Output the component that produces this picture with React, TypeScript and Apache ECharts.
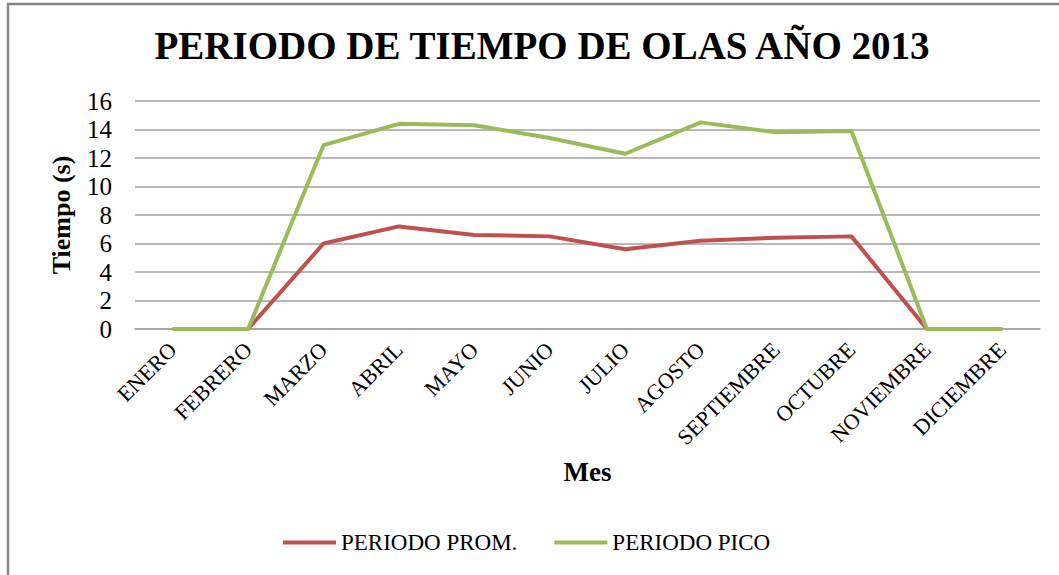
import React, { useEffect, useRef } from "react";
import * as echarts from "echarts";

const titleText = "PERIODO DE TIEMPO DE OLAS AÑO 2013";
const months = [
  "ENERO", "FEBRERO", "MARZO", "ABRIL", "MAYO", "JUNIO",
  "JULIO", "AGOSTO", "SEPTIEMBRE", "OCTUBRE", "NOVIEMBRE", "DICIEMBRE",
];
const seriesNames = ["PERIODO PROM.", "PERIODO PICO"];
const periodoProm = [0, 0, 6.0, 7.2, 6.6, 6.5, 5.6, 6.2, 6.4, 6.5, 0, 0];
const periodoPico = [0, 0, 12.9, 14.4, 14.3, 13.4, 12.3, 14.5, 13.8, 13.9, 0, 0];
const yMin = 0;
const yMax = 16;
const yInterval = 2;
const xAxisName = "Mes";
const yAxisName = "Tiempo (s)";

const FONT = "Liberation Serif";

export default function App() {
  const ref = useRef<HTMLDivElement>(null);
  useEffect(() => {
    if (!ref.current) return;
    const chart = echarts.init(ref.current, null, { renderer: "svg" });
    chart.setOption({
      animation: false,
      backgroundColor: "#ffffff",
      textStyle: { fontFamily: FONT },
      title: {
        text: titleText,
        left: 537,
        top: 21,
        textAlign: "center",
        textStyle: { fontFamily: FONT, fontWeight: "bold", fontSize: 39, color: "#000" },
      },
      legend: {
        left: 278,
        top: 526,
        itemWidth: 53,
        itemHeight: 4,
        itemGap: 37,
        icon: "rect",
        textStyle: { fontFamily: FONT, fontSize: 23, color: "#000" },
        data: seriesNames,
      },
      graphic: [
        {
          type: "rect",
          shape: { x: 8, y: 4, width: 1200, height: 800 },
          style: { fill: "none", stroke: "#868686", lineWidth: 2.5 },
          silent: true,
        },
      ],
      grid: { left: 135, right: 19, top: 101, bottom: 246 },
      xAxis: {
        type: "category",
        data: months,
        boundaryGap: true,
        name: xAxisName,
        nameLocation: "middle",
        nameGap: 129,
        nameTextStyle: { fontFamily: FONT, fontWeight: "bold", fontSize: 27, color: "#000" },
        axisLine: { lineStyle: { color: "#A0A0A0", width: 1.5 } },
        axisTick: { show: false },
        axisLabel: {
          rotate: 45,
          margin: 17,
          interval: 0,
          fontFamily: FONT,
          fontSize: 22,
          color: "#000",
        },
      },
      yAxis: {
        type: "value",
        min: yMin,
        max: yMax,
        interval: yInterval,
        name: yAxisName,
        nameLocation: "middle",
        nameGap: 61,
        nameTextStyle: { fontFamily: FONT, fontWeight: "bold", fontSize: 26, color: "#000" },
        axisLine: { show: false },
        axisTick: { show: false },
        axisLabel: { margin: 23, fontFamily: FONT, fontSize: 25, color: "#000" },
        splitLine: { lineStyle: { color: "#A0A0A0", width: 1.5 } },
      },
      series: [
        {
          name: seriesNames[0],
          type: "line",
          data: periodoProm,
          symbol: "none",
          lineStyle: { color: "#C0504D", width: 4 },
          itemStyle: { color: "#C0504D" },
        },
        {
          name: seriesNames[1],
          type: "line",
          data: periodoPico,
          symbol: "none",
          lineStyle: { color: "#9BBB59", width: 4 },
          itemStyle: { color: "#9BBB59" },
        },
      ],
    });
    return () => chart.dispose();
  }, []);
  return (
    <div
      ref={ref}
      style={{ position: "fixed", left: 0, top: 0, width: 1059, height: 575 }}
    />
  );
}
